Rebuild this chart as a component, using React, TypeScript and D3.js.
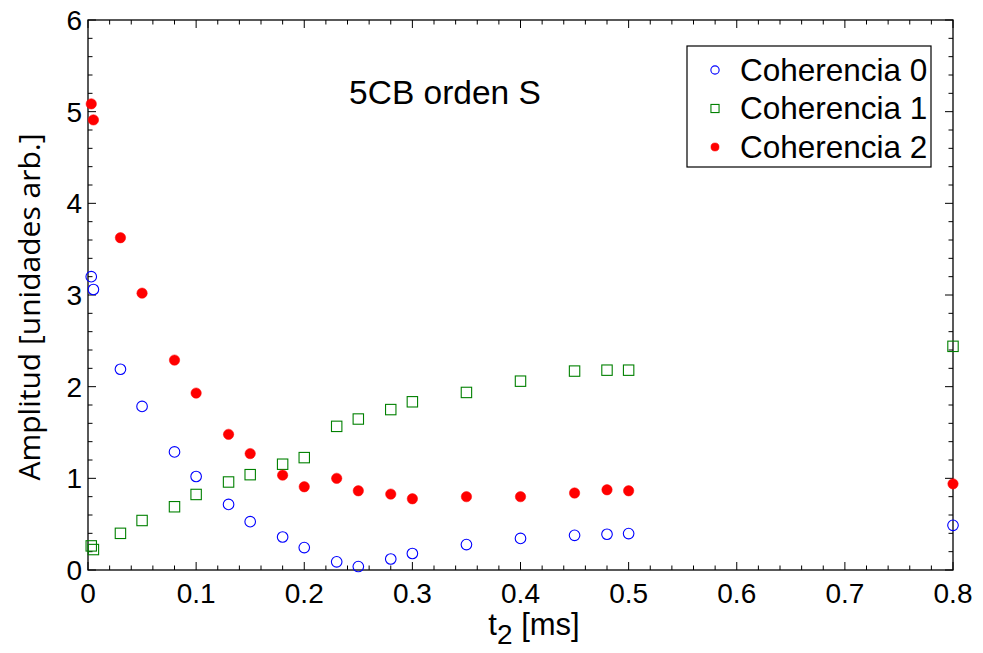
import React from "react";
import * as d3 from "d3";

const tValues = [0.003, 0.005, 0.03, 0.05, 0.08, 0.1, 0.13, 0.15, 0.18, 0.2, 0.23, 0.25, 0.28, 0.3, 0.35, 0.4, 0.45, 0.48, 0.5, 0.8];
const coh0 = [3.2, 3.06, 2.19, 1.785, 1.288, 1.02, 0.715, 0.527, 0.36, 0.245, 0.089, 0.038, 0.12, 0.18, 0.277, 0.345, 0.378, 0.39, 0.397, 0.487];
const coh1 = [0.263, 0.223, 0.4, 0.54, 0.69, 0.824, 0.96, 1.04, 1.154, 1.226, 1.567, 1.647, 1.75, 1.835, 1.937, 2.06, 2.17, 2.18, 2.18, 2.44];
const coh2 = [5.085, 4.91, 3.625, 3.02, 2.29, 1.93, 1.48, 1.27, 1.035, 0.908, 1.0, 0.864, 0.828, 0.777, 0.8, 0.8, 0.84, 0.875, 0.864, 0.94];
const xTicks = [0, 0.1, 0.2, 0.3, 0.4, 0.5, 0.6, 0.7, 0.8];
const yTicks = [0, 1, 2, 3, 4, 5, 6];
const seriesNames = ["Coherencia 0", "Coherencia 1", "Coherencia 2"];
const title = "5CB orden S";

const W = 983, H = 653;
const L = 88, R = 953, T = 20, B = 570;

export default function App() {
  const x = d3.scaleLinear().domain([0, 0.8]).range([L, R]);
  const y = d3.scaleLinear().domain([0, 6]).range([B, T]);
  const xMinor = d3.range(0, 0.8001, 0.02).filter((v) => Math.abs(v * 10 - Math.round(v * 10)) > 1e-6);
  const yMinor = d3.range(0, 6.001, 0.2).filter((v) => Math.abs(v - Math.round(v)) > 1e-6);
  const font = "Liberation Sans, Arial, sans-serif";
  const black = "#000";

  const marker = (k: number, cx: number, cy: number, legend = false, key?: string) => {
    const s = legend ? 0.78 : 1;
    if (k === 0) return <circle key={key} cx={cx} cy={cy} r={5.3 * s} fill="none" stroke="#0000ff" strokeWidth={1.1} />;
    if (k === 1) {
      const h = 5.2 * s;
      return <rect key={key} x={cx - h} y={cy - h} width={2 * h} height={2 * h} fill="none" stroke="#008000" strokeWidth={1.1} />;
    }
    return <circle key={key} cx={cx} cy={cy} r={5.2 * s} fill="#ff0000" stroke="#ff0000" strokeWidth={0.5} />;
  };

  const data = [coh0, coh1, coh2];

  return (
    <svg width={W} height={H} style={{ position: "absolute", left: 0, top: 0, background: "#fff" }} fontFamily={font}>
      <rect x={0} y={0} width={W} height={H} fill="#fff" />
      {xTicks.map((v) => (
        <g key={"xt" + v}>
          <line x1={x(v)} x2={x(v)} y1={B} y2={B - 8} stroke={black} />
          <line x1={x(v)} x2={x(v)} y1={T} y2={T + 8} stroke={black} />
          <text x={x(v)} y={603} textAnchor="middle" fontSize={28}>{String(v)}</text>
        </g>
      ))}
      {xMinor.map((v) => (
        <g key={"xm" + v}>
          <line x1={x(v)} x2={x(v)} y1={B} y2={B - 4.5} stroke={black} />
          <line x1={x(v)} x2={x(v)} y1={T} y2={T + 4.5} stroke={black} />
        </g>
      ))}
      {yTicks.map((v) => (
        <g key={"yt" + v}>
          <line x1={L} x2={L + 8} y1={y(v)} y2={y(v)} stroke={black} />
          <line x1={R} x2={R - 8} y1={y(v)} y2={y(v)} stroke={black} />
          <text x={82} y={y(v) + 10} textAnchor="end" fontSize={28}>{String(v)}</text>
        </g>
      ))}
      {yMinor.map((v) => (
        <g key={"ym" + v}>
          <line x1={L} x2={L + 4.5} y1={y(v)} y2={y(v)} stroke={black} />
          <line x1={R} x2={R - 4.5} y1={y(v)} y2={y(v)} stroke={black} />
        </g>
      ))}
      <rect x={L} y={T} width={R - L} height={B - T} fill="none" stroke={black} strokeWidth={1.3} />
      {data.map((arr, k) => (
        <g key={"s" + k}>{arr.map((v, i) => marker(k, x(tValues[i]), y(v), false, `m${k}-${i}`))}</g>
      ))}
      <text x={445} y={104} textAnchor="middle" fontSize={33.5}>{title}</text>
      <rect x={687} y={46} width={244} height={121} fill="#fff" stroke={black} strokeWidth={1.2} />
      {seriesNames.map((n, k) => (
        <g key={"lg" + k}>
          {marker(k, 715, 70 + k * 38.5, true)}
          <text x={740} y={70 + k * 38.5 + 10.5} fontSize={31.5}>{n}</text>
        </g>
      ))}
      <text x={534} y={635} textAnchor="middle" fontSize={31}>
        t<tspan dy={9} fontSize={28}>2</tspan><tspan dy={-9}> [ms]</tspan>
      </text>
      <text transform={`translate(40, 307) rotate(-90)`} textAnchor="middle" fontSize={30} fontFamily="Open Sans, sans-serif">
        Amplitud [unidades arb.]
      </text>
    </svg>
  );
}
